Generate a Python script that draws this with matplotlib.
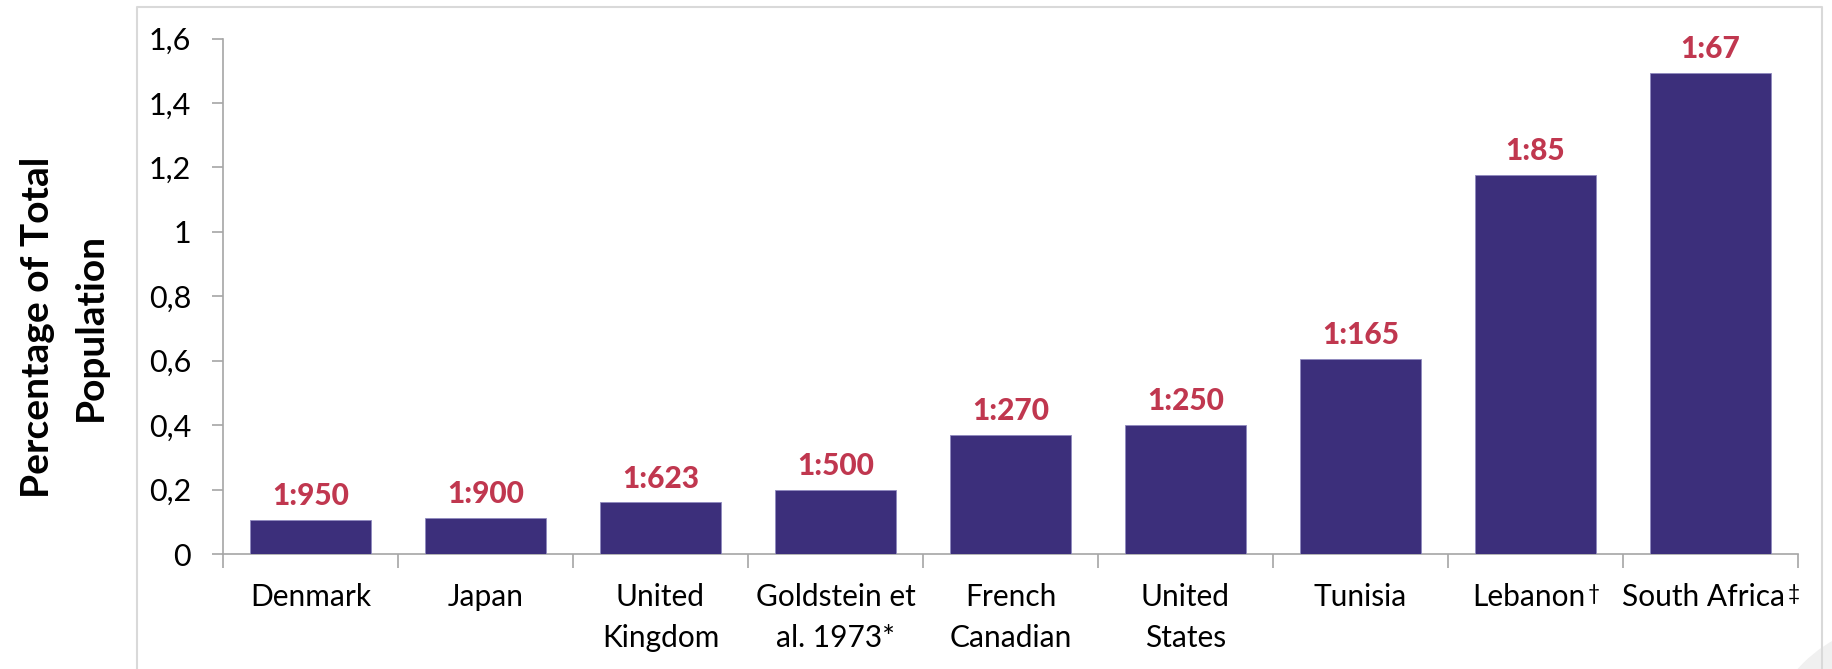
import matplotlib
matplotlib.use("Agg")
import matplotlib.pyplot as plt
from matplotlib.lines import Line2D
from matplotlib.patches import Circle
from matplotlib.transforms import IdentityTransform, ScaledTranslation
from matplotlib.ticker import FuncFormatter, FixedLocator

# carrier frequency per population, written as 1:N
categories = ["Denmark", "Japan", "United\nKingdom", "Goldstein et\nal. 1973*",
              "French\nCanadian", "United\nStates", "Tunisia",
              "Lebanon", "South Africa"]
footnote_marks = ["", "", "", "", "", "", "", "\u2020", "\u2021"]
ratio_n = [950, 900, 623, 500, 270, 250, 165, 85, 67]
ratio_labels = ["1:%d" % n for n in ratio_n]
percent = [100.0 / n for n in ratio_n]

bar_color = "#3C2F7B"
label_color = "#C0374F"
axis_color = "#A6A6A6"

plt.rcParams["font.family"] = ["Lato", "DejaVu Sans"]

W, H = 1833, 669
fig = plt.figure(figsize=(W / 100, H / 100), dpi=100)
ax = fig.add_axes([223 / W, 1 - 554 / H, (1798 - 223) / W, (554 - 38.6) / H])

x = list(range(len(categories)))
bars = ax.bar(x, percent, width=0.686, color=bar_color,
              edgecolor="#8F89BF", linewidth=0.6, zorder=3)
ax.bar_label(bars, labels=ratio_labels, padding=7, color=label_color,
             fontsize=21.5, fontweight=900)

ax.set_xlim(-0.5, len(categories) - 0.5)
ax.set_ylim(0, 1.6)
ax.set_yticks([i * 0.2 for i in range(9)])
ax.yaxis.set_major_formatter(FuncFormatter(
    lambda v, p: ("%g" % round(v, 1)).replace(".", ",")))

ax.set_xticks(x)
xlabels = ax.set_xticklabels(categories, linespacing=1.55)
ax.xaxis.set_minor_locator(FixedLocator([i - 0.5 for i in range(len(categories) + 1)]))
ax.tick_params(axis="x", which="major", length=0, pad=21, labelsize=21.5)
ax.tick_params(axis="x", which="minor", length=10, width=1.2, color=axis_color)
ax.tick_params(axis="y", length=8, width=1.2, color=axis_color, pad=15, labelsize=22)

# small footnote marks after some category names
for lab, mark in zip(xlabels, footnote_marks):
    if not mark:
        continue
    lab.set_transform(lab.get_transform() +
                      ScaledTranslation(-5 / 72, 0, fig.dpi_scale_trans))
    ax.annotate(mark, xy=(1, 0), xycoords=lab, xytext=(2, 5),
                textcoords="offset points", fontsize=15, va="bottom", ha="left")

for s in ["top", "right"]:
    ax.spines[s].set_visible(False)
for s in ["left", "bottom"]:
    ax.spines[s].set_color(axis_color)
    ax.spines[s].set_linewidth(1.2)

ax.set_ylabel("Percentage of Total\nPopulation", fontsize=28, fontweight="bold",
              linespacing=1.6, labelpad=0, va="center")
ax.yaxis.set_label_coords(64 / W, 1 - 327 / H, transform=fig.transFigure)

# light frame around the plot area
fx0, fx1, fy1 = 137 / W, 1822 / W, 1 - 7 / H
fig.add_artist(Line2D([fx0, fx0, fx1, fx1], [0, fy1, fy1, 0],
                      transform=fig.transFigure, color="#D9D9D9", linewidth=1.5))
# faint round shape in the lower right corner
fig.add_artist(Circle((1900, H - 760), 137, transform=IdentityTransform(),
                      facecolor="#F0F0F0", edgecolor="none", zorder=-1))

fig.savefig("out.png", dpi=100)
